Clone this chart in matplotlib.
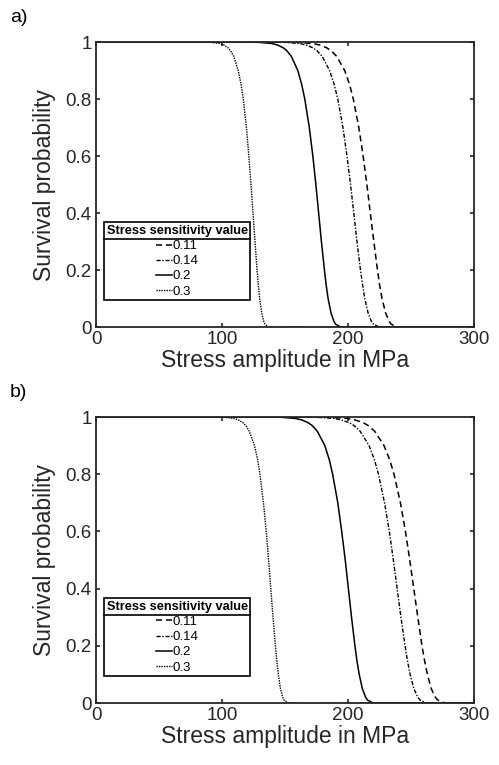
import matplotlib
matplotlib.use("Agg")
import matplotlib.pyplot as plt
from matplotlib.lines import Line2D

plt.rcParams['font.family'] = ['Liberation Sans', 'DejaVu Sans']

# Survival probability levels (shared by all curves)
survival = [1, 0.9999, 0.999, 0.995, 0.99, 0.98, 0.97, 0.95, 0.9, 0.85, 0.8, 0.7,
            0.6, 0.5, 0.4, 0.3, 0.2, 0.15, 0.1, 0.05, 0.02, 0.01, 0.001, 0, 0]

sensitivity_labels = ['0.11', '0.14', '0.2', '0.3']

# Panel a) stress amplitude (MPa) at each survival level
a_011 = [0, 143.8, 159.7, 171.8, 177.4, 183.1, 186.5, 191.0, 197.4, 201.3, 204.2,
         208.6, 212.0, 215.0, 217.7, 220.5, 223.4, 225.0, 227.0, 229.8, 232.6,
         234.3, 238.7, 240.5, 300]
a_014 = [0, 135.2, 150.0, 161.5, 166.6, 172.0, 175.3, 179.5, 185.4, 189.1, 191.9,
         196.0, 199.2, 202.0, 204.6, 207.1, 209.9, 211.5, 213.3, 215.9, 218.5,
         220.2, 224.3, 225.9, 300]
a_02 = [0, 116.7, 129.6, 139.5, 143.9, 148.6, 151.4, 155.0, 160.2, 163.3, 165.7,
        169.3, 172.1, 174.5, 176.7, 178.9, 181.3, 182.6, 184.2, 186.5, 188.8,
        190.2, 193.7, 195.1, 300]
a_03 = [0, 82.3, 91.4, 98.3, 101.5, 104.8, 106.7, 109.3, 112.9, 115.2, 116.9,
        119.4, 121.3, 123.0, 124.6, 126.2, 127.8, 128.8, 129.9, 131.5, 133.1,
        134.1, 136.6, 137.6, 300]

# Panel b)
b_011 = [0, 166.6, 185.0, 199.0, 205.4, 212.1, 216.1, 221.2, 228.6, 233.1, 236.5,
         241.6, 245.6, 249.0, 252.2, 255.4, 258.7, 260.7, 263.0, 266.1, 269.4,
         271.4, 276.4, 278.5, 300]
b_014 = [0, 157.9, 175.3, 188.7, 194.7, 201.0, 204.8, 209.7, 216.7, 221.0, 224.2,
         229.0, 232.8, 236.0, 239.0, 242.0, 245.3, 247.1, 249.3, 252.3, 255.4,
         257.3, 262.0, 264.0, 300]
b_02 = [0, 132.3, 146.9, 158.1, 163.2, 168.4, 171.6, 175.7, 181.6, 185.2, 187.8,
        191.9, 195.0, 197.8, 200.3, 202.8, 205.5, 207.0, 208.9, 211.4, 214.0,
        215.6, 219.6, 221.2, 300]
b_03 = [0, 91.7, 101.8, 109.5, 113.0, 116.7, 118.9, 121.7, 125.8, 128.3, 130.1,
        132.9, 135.1, 137.0, 138.7, 140.5, 142.4, 143.4, 144.7, 146.4, 148.2,
        149.3, 152.1, 153.2, 300]

x_ticks = [0, 100, 200, 300]
y_ticks = [0, 0.2, 0.4, 0.6, 0.8, 1]
y_ticklabels = ['0', '0.2', '0.4', '0.6', '0.8', '1']

styles = [dict(ls=(0, (4, 2.5)), lw=1.1),
          dict(ls=(0, (3, 1.2, 1, 1.2)), lw=1.0),
          dict(ls='-', lw=1.1),
          dict(ls=(0, (1, 0.8)), lw=1.0)]

fig = plt.figure(figsize=(4.99, 7.65), dpi=100)
ax_a = fig.add_axes([0.1924, 0.5725, 0.7575, 0.3725])
ax_b = fig.add_axes([0.1924, 0.0810, 0.7575, 0.3739])

spine_col = '#262626'
legends = []
for ax, series in [(ax_a, [a_011, a_014, a_02, a_03]),
                   (ax_b, [b_011, b_014, b_02, b_03])]:
    for xs, st, lab in zip(series, styles, sensitivity_labels):
        ax.plot(xs, survival, color='black', label=lab, **st)
    ax.set_xlim(0, 300)
    ax.set_ylim(0, 1)
    ax.set_xticks(x_ticks)
    ax.set_yticks(y_ticks)
    ax.set_yticklabels(y_ticklabels)
    ax.tick_params(direction='in', top=True, right=True, length=3, width=1.2,
                   labelsize=13.5, colors=spine_col, pad=3)
    for s in ax.spines.values():
        s.set_linewidth(1.3)
        s.set_color(spine_col)
    ax.set_xlabel('Stress amplitude in MPa', fontsize=16.5, color=spine_col, labelpad=0.5)
    ax.set_ylabel('Survival probability', fontsize=16.5, color=spine_col, labelpad=7)
    leg = ax.legend(loc='lower left', bbox_to_anchor=(0.021, 0.094), borderaxespad=0,
                    title='Stress sensitivity value',
                    title_fontproperties={'weight': 'bold', 'size': 9.2},
                    fontsize=9.5, frameon=True, fancybox=False, edgecolor='black',
                    handlelength=1.25, handletextpad=0.05, labelspacing=0.22,
                    borderpad=0.2)
    leg.get_frame().set_linewidth(1.2)
    leg.get_frame().set_alpha(1)
    legends.append(leg)

fig.text(10 / 499, 1 - 18 / 765, 'a)', fontsize=14, va='center', ha='left')
fig.text(10 / 499, 1 - 393 / 765, 'b)', fontsize=14, va='center', ha='left')

fig.canvas.draw()
renderer = fig.canvas.get_renderer()
inv = fig.transFigure.inverted()
for leg in legends:
    fb = leg.get_frame().get_window_extent(renderer)
    tb = leg.get_title().get_window_extent(renderer)
    ysep = tb.y0 - 2
    (x0, y0) = inv.transform((fb.x0, ysep))
    (x1, _) = inv.transform((fb.x1, ysep))
    fig.add_artist(Line2D([x0, x1], [y0, y0], color='black', lw=1.2,
                          transform=fig.transFigure))

fig.savefig('out.png', dpi=100)
